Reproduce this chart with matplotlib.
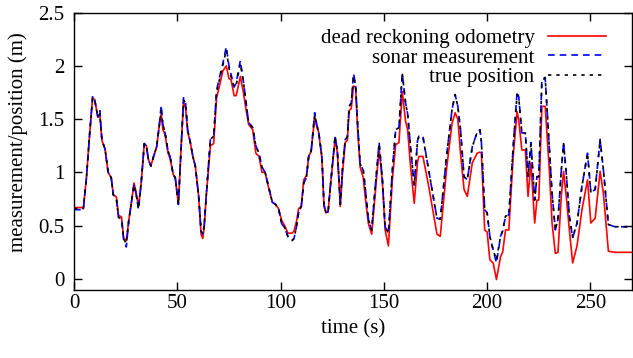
import matplotlib
matplotlib.use("Agg")
import matplotlib.pyplot as plt

plt.rcParams['font.family'] = ['Liberation Serif', 'DejaVu Serif']
plt.rcParams['font.size'] = 15

# time (s) and the three series
time = [0, 4.5, 6, 7.5, 9, 10, 11.5, 12.5, 13.5, 15, 16.5, 18, 19, 20.5, 21.5, 23, 24, 25.3,
        26.5, 28, 29, 30, 31.2, 32.5, 34, 35, 36, 37.2, 38.5, 40, 41, 42.2, 43, 44, 45.5,
        46.5, 48, 49, 50.5, 52, 53, 54, 55, 56.3, 57.5, 58.7, 60.3, 61.5, 62.3, 63, 64,
        66, 67.6, 69, 70.5, 72, 73.7, 75, 76, 77.5, 78.5, 80.5, 82, 83, 84.5, 86.5, 88,
        89.5, 91, 92.5, 94, 96, 97.5, 99, 100.5, 102, 103.5, 105.5, 106.5, 107.8, 108.7,
        110, 111.2, 112.5, 113.6, 114.8, 116.5, 117.5, 118.4, 120, 121, 122, 123, 124.1,
        126.4, 127.5, 128.9, 130, 131.3, 132.3, 133.2, 134.2, 135.3, 136.3, 137.3, 138.5,
        140, 140.9, 142.5, 144.1, 145.7, 147.7, 149.3, 150.6, 152.2, 154.1, 155.7, 157.3,
        158.9, 160.5, 161.5, 162.8, 164.7, 166.3, 167, 168.9, 171.7, 175.7, 177.3, 180.5,
        183, 184.5, 185.8, 187.1, 188.8, 190.4, 192.8, 195.2, 196.5, 197.2, 198.8, 200,
        201.3, 202.9, 204.5, 206.5, 207.5, 208.9, 210.5, 212.6, 214.5, 215.3, 216.8, 218.5,
        219.8, 221.2, 223, 224.1, 225, 226.5, 228.1, 230.1, 231.4, 233, 234.3, 235.9, 237,
        238.3, 239.8, 241.4, 243.5, 245.9, 248.6, 250.2, 252.3, 254.7, 256.3, 258.7, 261.9,
        270]

true_pos = [0.66, 0.66, 0.95, 1.35, 1.70, 1.68, 1.52, 1.55, 1.30, 1.22, 1.00, 0.95, 0.79, 0.75,
            0.58, 0.56, 0.38, 0.33, 0.55, 0.75, 0.88, 0.80, 0.66, 0.90, 1.27, 1.25, 1.12, 1.06,
            1.15, 1.24, 1.40, 1.58, 1.45, 1.38, 1.20, 1.15, 0.98, 0.95, 0.70, 1.30, 1.68, 1.65,
            1.40, 1.28, 1.15, 1.06, 0.78, 0.45, 0.42, 0.50, 0.78, 1.31, 1.34, 1.75, 1.88, 2.00,
            2.15, 1.98, 1.90, 1.80, 1.82, 2.02, 1.85, 1.70, 1.47, 1.42, 1.25, 1.18, 1.05, 1.00,
            0.88, 0.72, 0.70, 0.66, 0.52, 0.48, 0.40, 0.36, 0.38, 0.50, 0.62, 0.68, 0.90, 0.95,
            1.15, 1.20, 1.54, 1.45, 1.38, 1.15, 0.70, 0.62, 0.63, 0.87, 1.34, 1.20, 0.70, 1.05,
            1.31, 1.33, 1.62, 1.65, 1.90, 1.82, 1.45, 1.08, 1.02, 0.87, 0.56, 0.46, 0.84, 1.27,
            0.93, 0.49, 0.43, 1.02, 1.40, 1.42, 1.93, 1.65, 1.55, 1.26, 0.88, 1.30, 1.34, 1.33,
            1.02, 0.57, 0.56, 1.18, 1.59, 1.73, 1.62, 1.40, 0.96, 0.93, 1.24, 1.38, 1.40, 1.29,
            0.65, 0.62, 0.40, 0.27, 0.18, 0.40, 0.45, 0.59, 0.60, 1.24, 1.73, 1.70, 1.37, 1.37,
            0.96, 1.27, 0.74, 0.96, 0.96, 1.85, 1.89, 1.24, 0.81, 0.46, 0.56, 1.02, 1.27, 0.99,
            0.59, 0.39, 0.52, 0.87, 1.18, 0.81, 0.84, 1.30, 1.02, 0.51, 0.49, 0.49]

sonar = [0.65, 0.65, 0.95, 1.35, 1.72, 1.68, 1.52, 1.58, 1.30, 1.22, 1.00, 0.95, 0.79, 0.75,
         0.58, 0.56, 0.37, 0.30, 0.55, 0.75, 0.88, 0.80, 0.65, 0.90, 1.27, 1.25, 1.12, 1.06,
         1.15, 1.24, 1.40, 1.63, 1.45, 1.38, 1.20, 1.15, 0.98, 0.95, 0.70, 1.30, 1.70, 1.65,
         1.40, 1.28, 1.15, 1.06, 0.78, 0.45, 0.42, 0.50, 0.78, 1.31, 1.34, 1.77, 1.90, 2.02,
         2.18, 2.00, 1.92, 1.80, 1.84, 2.05, 1.85, 1.70, 1.47, 1.42, 1.25, 1.18, 1.05, 1.00,
         0.88, 0.72, 0.70, 0.66, 0.52, 0.48, 0.40, 0.36, 0.38, 0.50, 0.62, 0.68, 0.90, 0.95,
         1.15, 1.20, 1.56, 1.45, 1.38, 1.15, 0.70, 0.62, 0.63, 0.87, 1.34, 1.20, 0.70, 1.05,
         1.31, 1.33, 1.62, 1.65, 1.93, 1.82, 1.45, 1.08, 1.02, 0.87, 0.56, 0.46, 0.84, 1.28,
         0.93, 0.49, 0.43, 1.02, 1.40, 1.42, 1.93, 1.65, 1.55, 1.26, 0.88, 1.30, 1.34, 1.34,
         1.02, 0.57, 0.56, 1.18, 1.59, 1.73, 1.62, 1.40, 0.96, 0.93, 1.24, 1.38, 1.40, 1.29,
         0.65, 0.62, 0.40, 0.275, 0.15, 0.40, 0.45, 0.59, 0.60, 1.24, 1.76, 1.71, 1.37, 1.37,
         0.96, 1.28, 0.74, 0.96, 0.96, 1.88, 1.89, 1.24, 0.81, 0.46, 0.56, 1.02, 1.28, 0.99,
         0.59, 0.385, 0.525, 0.87, 1.18, 0.81, 0.84, 1.31, 1.02, 0.51, 0.49, 0.49]

odometry = [0.67, 0.67, 0.95, 1.35, 1.70, 1.68, 1.52, 1.53, 1.30, 1.22, 1.00, 0.95, 0.79, 0.77,
            0.60, 0.58, 0.38, 0.36, 0.55, 0.75, 0.90, 0.82, 0.68, 0.90, 1.27, 1.25, 1.12, 1.06,
            1.15, 1.24, 1.40, 1.55, 1.40, 1.36, 1.18, 1.13, 0.98, 0.95, 0.70, 1.30, 1.66, 1.60,
            1.38, 1.28, 1.15, 1.06, 0.78, 0.42, 0.38, 0.48, 0.78, 1.25, 1.27, 1.70, 1.82, 1.95,
            2.00, 1.88, 1.87, 1.72, 1.72, 1.90, 1.75, 1.62, 1.45, 1.40, 1.18, 1.15, 1.00, 1.00,
            0.87, 0.72, 0.70, 0.66, 0.55, 0.50, 0.43, 0.43, 0.45, 0.55, 0.66, 0.68, 0.93, 0.97,
            1.15, 1.20, 1.52, 1.43, 1.38, 1.13, 0.68, 0.62, 0.63, 0.87, 1.32, 1.18, 0.68, 1.00,
            1.28, 1.30, 1.58, 1.60, 1.81, 1.80, 1.40, 1.05, 0.95, 0.78, 0.52, 0.42, 0.78, 1.22,
            0.90, 0.46, 0.31, 0.93, 1.26, 1.28, 1.76, 1.48, 1.40, 1.08, 0.71, 1.10, 1.15, 1.15,
            0.87, 0.42, 0.40, 1.06, 1.46, 1.56, 1.50, 1.18, 0.84, 0.775, 1.09, 1.18, 1.19, 1.18,
            0.46, 0.44, 0.18, 0.15, -0.005, 0.21, 0.25, 0.46, 0.46, 1.15, 1.57, 1.49, 1.21, 1.21,
            0.775, 1.09, 0.525, 0.74, 0.74, 1.62, 1.62, 1.025, 0.53, 0.24, 0.25, 0.78, 1.01,
            0.775, 0.46, 0.15, 0.31, 0.65, 0.93, 0.525, 0.57, 1.01, 0.80, 0.26, 0.25, 0.25]

fig = plt.figure(figsize=(6.33, 3.58), dpi=100)
ax = fig.add_axes([0.117, 0.191, 0.881, 0.774])

ax.plot(time, odometry, color='red', lw=1.2, label='dead reckoning odometry')
ax.plot(time, sonar, color='blue', lw=1.2, dashes=(4, 3), label='sonar measurement')
ax.plot(time, true_pos, color='black', lw=1.2, dashes=(2, 3), label='true position')

ax.set_xlim(0, 270)
ax.set_ylim(-0.1, 2.5)
ax.set_xticks([0, 50, 100, 150, 200, 250])
ax.set_yticks([0, 0.5, 1, 1.5, 2, 2.5])
ax.set_yticklabels(['0', '0.5', '1', '1.5', '2', '2.5'])
ax.tick_params(direction='in', length=6, width=1, top=True, right=True)
ax.tick_params(axis='x', pad=3)
ax.tick_params(axis='y', pad=7)
for s in ax.spines.values():
    s.set_linewidth(1)

ax.set_xlabel('time (s)', labelpad=5)
ax.set_ylabel('measurement/position (m)')
ax.yaxis.set_label_coords(-0.082, 0.533)

ax.legend(loc='upper right', bbox_to_anchor=(0.9695, 0.973), borderaxespad=0,
          frameon=False, markerfirst=False, handlelength=2.8,
          labelspacing=0.0, handletextpad=0.65)

fig.savefig('out.png', dpi=100)
